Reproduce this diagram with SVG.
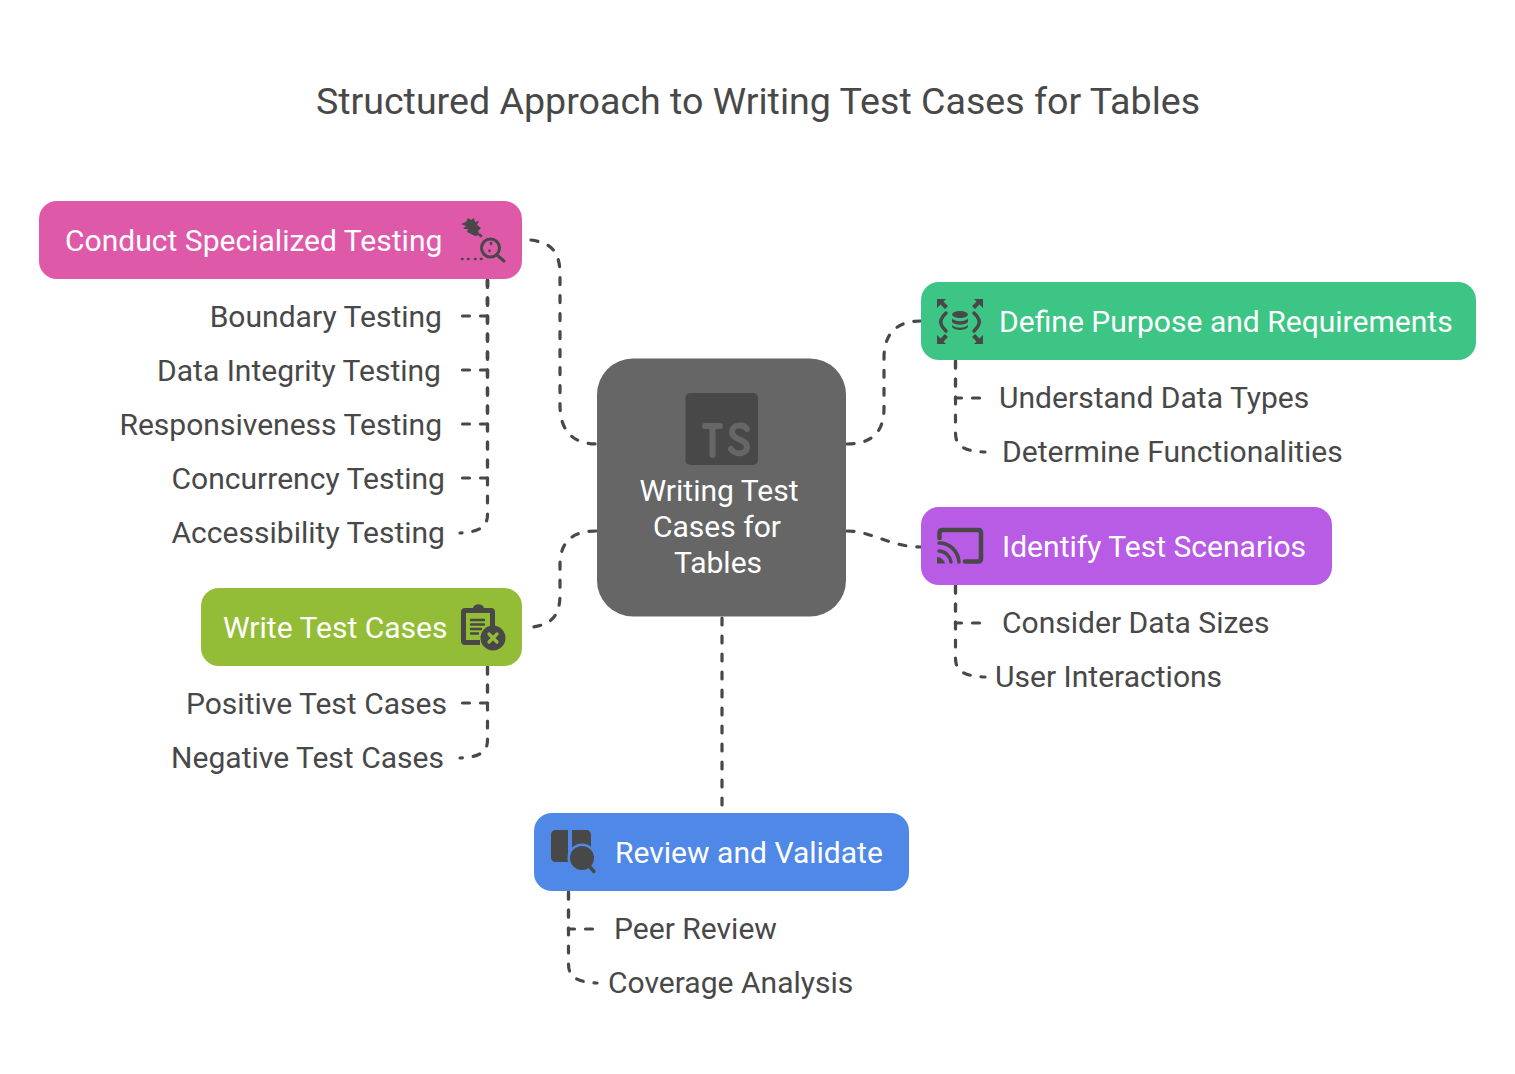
<svg xmlns="http://www.w3.org/2000/svg" width="1515" height="1074" viewBox="0 0 1515 1074">
<style>
text{font-family:Roboto,"Liberation Sans",sans-serif}
.t{font-size:37.580px;fill:#484848}
.n{font-size:30.050px;fill:#fff}
.l{font-size:30.050px;fill:#484848}
.c{font-size:30.050px;fill:#fff;text-anchor:middle}
.e{text-anchor:end}
.k{fill:none;stroke:#484848;stroke-width:3.200px;stroke-dasharray:7 11;stroke-linecap:round}
.i{fill:#484848}
.s{fill:none;stroke:#484848;stroke-linecap:round;stroke-linejoin:round}
</style>
<rect width="1515" height="1074" fill="#fff"/>
<text class="t" x="758" y="114" text-anchor="middle">Structured Approach to Writing Test Cases for Tables</text>
<g id="connectors">
<path class="k" d="M531 240C552 243 560 252 560 275V405C560 430 572 444 597 444"/>
<path class="k" d="M596 531C572 531 560 542 560 565V594C560 616 552 625 529 627.500"/>
<path class="k" d="M847 444C872 444 884 432 884 408V358C884 334 896 321 921 321"/>
<path class="k" d="M847 531C872 531 890 547 921 547"/>
<path class="k" d="M722 618V808"/>
<path class="k" d="M487.500 280V316H461"/>
<path class="k" d="M487.500 280V370H461"/>
<path class="k" d="M487.500 280V424H461"/>
<path class="k" d="M487.500 280V478H461"/>
<path class="k" d="M487.500 280V515C487.500 526 480 532 460 533"/>
<path class="k" d="M487.500 667V703H461"/>
<path class="k" d="M487.500 667V740C487.500 752 480 757 460 758"/>
<path class="k" d="M955.500 361V398H983"/>
<path class="k" d="M955.500 361V433C955.500 445 962 451 985 452"/>
<path class="k" d="M955.500 586V623H983"/>
<path class="k" d="M955.500 586V658C955.500 670 962 676 985 677"/>
<path class="k" d="M568.500 892V929H596"/>
<path class="k" d="M568.500 892V964C568.500 976 575 982 597 983"/>
</g>
<g id="center">
<rect x="597" y="358.500" width="249" height="258" rx="36" fill="#666"/>
<rect x="685.500" y="393" width="72.500" height="72" rx="5" fill="#484848"/>
<path d="M705 426H720M712.500 426V455" fill="none" stroke="#666" stroke-width="6" stroke-linecap="round"/>
<path d="M747 429C744 424 732 424 732 432C732 440 747 439 747 447C747 455 734 455 731 449" fill="none" stroke="#666" stroke-width="6" stroke-linecap="round"/>
<text class="c" x="719" y="500.600">Writing Test</text>
<text class="c" x="717" y="536.600">Cases for</text>
<text class="c" x="718" y="572.600">Tables</text>
</g>
<g id="specialized">
<rect x="39" y="201" width="483" height="78" rx="18" fill="#df59a9"/>
<text class="n" x="65" y="250.600">Conduct Specialized Testing</text>
<path class="i" d="M468 218L471 220L474 218L475 222L479 221L477 225L481 228L478 231L480 235L475 236L471 234L467 232L468 229L463 229L466 226L461 224L466 222Z"/>
<circle class="s" cx="490.500" cy="248" r="9" stroke-width="3"/>
<path class="s" stroke-width="3" d="M497 255L504 261"/>
<path class="s" stroke-width="2.600" d="M491 243V244M489.500 250.500V251M480 235L481 236M462 259H462.500M468 259H468.500M475 259H475.500M481 259H481.500"/>
</g>
<g id="boundary"><text class="l e" x="442" y="326.600">Boundary Testing</text></g>
<g id="integrity"><text class="l e" x="441" y="380.600">Data Integrity Testing</text></g>
<g id="responsive"><text class="l e" x="442" y="434.600">Responsiveness Testing</text></g>
<g id="concurrency"><text class="l e" x="445" y="488.600">Concurrency Testing</text></g>
<g id="accessibility"><text class="l e" x="445" y="542.600">Accessibility Testing</text></g>
<g id="write">
<rect x="201" y="588" width="321" height="78" rx="18" fill="#93bd36"/>
<text class="n" x="223" y="637.600">Write Test Cases</text>
<path class="i" fill-rule="evenodd" d="M465 608H473C474 603 483 603 484 608H491C494 608 495 610 495 612V627H490V613H466V640H480V645H465C462 645 461 643 461 641V612C461 610 462 608 465 608Z"/>
<path class="s" stroke-width="2.400" d="M471 620H484M471 624.500H484M471 629H481M471 633.500H478"/>
<circle class="i" cx="493" cy="638" r="12.500"/>
<path fill="none" stroke="#93bd36" stroke-width="3.200" stroke-linecap="round" d="M489 634L497 642M497 634L489 642"/>
</g>
<g id="positive"><text class="l e" x="447" y="713.600">Positive Test Cases</text></g>
<g id="negative"><text class="l e" x="444" y="767.600">Negative Test Cases</text></g>
<g id="define">
<rect x="921" y="282" width="555" height="78" rx="18" fill="#3dc585"/>
<text class="n" x="999" y="331.600">Define Purpose and Requirements</text>
<ellipse class="i" cx="960" cy="314.500" rx="8" ry="3.500"/>
<path class="i" d="M952 318.500C955 322 965 322 968 318.500V322C965 325.500 955 325.500 952 322ZM952 325C955 328.500 965 328.500 968 325V327C965 331 955 331 952 327Z"/>
<path class="s" stroke-width="3.500" d="M946 313C939 320 939 324 946 331M974 313C981 320 981 324 974 331"/>
<path class="i" d="M937 299H946L943.500 301.500L948 306L945 309L940.500 304.500L937 308ZM983 299H974L976.500 301.500L972 306L975 309L979.500 304.500L983 308ZM937 344H946L943.500 341.500L948 337L945 334L940.500 338.500L937 335ZM983 344H974L976.500 341.500L972 337L975 334L979.500 338.500L983 335Z"/>
</g>
<g id="datatypes"><text class="l" x="999" y="407.600">Understand Data Types</text></g>
<g id="functionalities"><text class="l" x="1002" y="461.600">Determine Functionalities</text></g>
<g id="identify">
<rect x="921" y="507" width="411" height="78" rx="18" fill="#b85be5"/>
<text class="n" x="1002" y="556.600">Identify Test Scenarios</text>
<path class="s" stroke-width="4.500" d="M939.500 538V533C939.500 531 940.500 530 942.500 530H978C980 530 981 531 981 533V558.500C981 560.500 980 561.500 978 561.500H965"/>
<path class="s" stroke-width="3.500" d="M939 543C950 543 958 551 959 562M939 551C945 551 950 556 951 562"/>
<path class="i" d="M937 557C941 557 944 560 945 563.500H937Z"/>
</g>
<g id="sizes"><text class="l" x="1002" y="632.600">Consider Data Sizes</text></g>
<g id="interactions"><text class="l" x="995" y="686.600">User Interactions</text></g>
<g id="review">
<rect x="534" y="813" width="375" height="78" rx="18" fill="#4f88e6"/>
<text class="n" x="615" y="862.600">Review and Validate</text>
<path class="i" d="M556 830H568V862H556C553 862 551 860 551 857V835C551 832 553 830 556 830ZM572 830H586C589 830 591 832 591 835V855H572Z"/>
<circle cx="582" cy="858" r="14.500" fill="#4f88e6"/>
<circle class="i" cx="582" cy="858" r="12"/>
<path class="s" stroke-width="3.500" d="M590 867L594 871.500"/>
</g>
<g id="peer"><text class="l" x="614" y="938.600">Peer Review</text></g>
<g id="coverage"><text class="l" x="608" y="992.600">Coverage Analysis</text></g>
</svg>
